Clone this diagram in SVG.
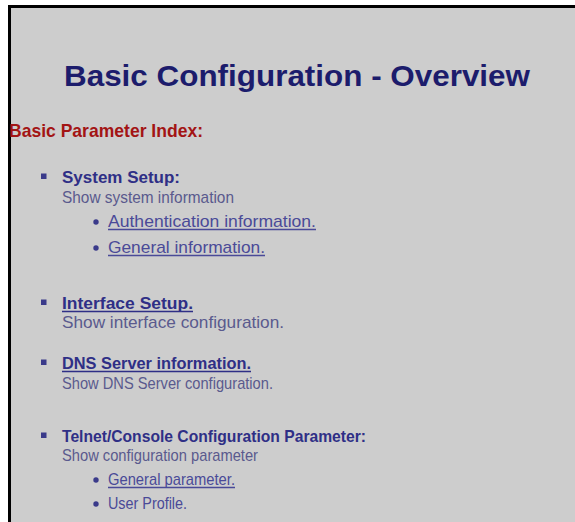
<svg xmlns="http://www.w3.org/2000/svg" width="575" height="522" viewBox="0 0 575 522">
<style>
text{font-family:"Liberation Sans",Arial,sans-serif}
.title{font-size:30px;font-weight:bold;fill:#1c1c6c}
.idx{font-size:19px;font-weight:bold;fill:#a31414}
.head{font-size:17px;font-weight:bold;fill:#2f2f86}
.desc{font-size:17px;fill:#5a5a8e}
.sub{font-size:17px;fill:#4a4a98}
.sq{fill:#3a3a8a}
.dot{fill:#3a3a8a}
.ul{stroke-width:1.5}
</style>
<rect x="0" y="0" width="575" height="522" fill="#ffffff"/>
<rect x="8" y="5" width="567" height="517" fill="#cdcdcd"/>
<rect x="8" y="5" width="567" height="3" fill="#000"/>
<rect x="8" y="5" width="3" height="517" fill="#000"/>
<g id="title"><text class="title" x="64" y="86" textLength="466" lengthAdjust="spacingAndGlyphs">Basic Configuration - Overview</text></g>
<g id="index"><text class="idx" x="9" y="137" textLength="194" lengthAdjust="spacingAndGlyphs">Basic Parameter Index:</text></g>
<g id="system-setup">
<rect class="sq" x="41" y="173.5" width="5.5" height="5.5"/>
<text class="head" x="62" y="183" textLength="118" lengthAdjust="spacingAndGlyphs">System Setup:</text>
<text class="desc" x="62" y="203" textLength="172" lengthAdjust="spacingAndGlyphs">Show system information</text>
<circle class="dot" cx="96" cy="222" r="2.7"/>
<text class="sub" x="108" y="227" textLength="208" lengthAdjust="spacingAndGlyphs">Authentication information.</text>
<line class="ul" x1="108" y1="229.5" x2="316" y2="229.5" stroke="#4a4a98"/>
<circle class="dot" cx="96" cy="248" r="2.7"/>
<text class="sub" x="108" y="253" textLength="157" lengthAdjust="spacingAndGlyphs">General information.</text>
<line class="ul" x1="108" y1="255.5" x2="265" y2="255.5" stroke="#4a4a98"/>
</g>
<g id="interface-setup">
<rect class="sq" x="41" y="299.5" width="5.5" height="5.5"/>
<text class="head" x="62" y="309" textLength="131" lengthAdjust="spacingAndGlyphs">Interface Setup.</text>
<line class="ul" x1="62" y1="311.5" x2="193" y2="311.5" stroke="#2f2f86"/>
<text class="desc" x="62" y="328" textLength="222" lengthAdjust="spacingAndGlyphs">Show interface configuration.</text>
</g>
<g id="dns-server">
<rect class="sq" x="41" y="359.5" width="5.5" height="5.5"/>
<text class="head" x="62" y="369" textLength="189" lengthAdjust="spacingAndGlyphs">DNS Server information.</text>
<line class="ul" x1="62" y1="371.5" x2="251" y2="371.5" stroke="#2f2f86"/>
<text class="desc" x="62" y="389" textLength="211" lengthAdjust="spacingAndGlyphs">Show DNS Server configuration.</text>
</g>
<g id="telnet-console">
<rect class="sq" x="41" y="432.5" width="5.5" height="5.5"/>
<text class="head" x="62" y="442" textLength="304" lengthAdjust="spacingAndGlyphs">Telnet/Console Configuration Parameter:</text>
<text class="desc" x="62" y="461" textLength="196" lengthAdjust="spacingAndGlyphs">Show configuration parameter</text>
<circle class="dot" cx="96" cy="480" r="2.7"/>
<text class="sub" x="108" y="485" textLength="127" lengthAdjust="spacingAndGlyphs">General parameter.</text>
<line class="ul" x1="108" y1="487.5" x2="235" y2="487.5" stroke="#4a4a98"/>
<circle class="dot" cx="96" cy="504" r="2.7"/>
<text class="sub" x="108" y="509" textLength="79" lengthAdjust="spacingAndGlyphs">User Profile.</text>
</g>
<g id="connectors"></g>
</svg>
